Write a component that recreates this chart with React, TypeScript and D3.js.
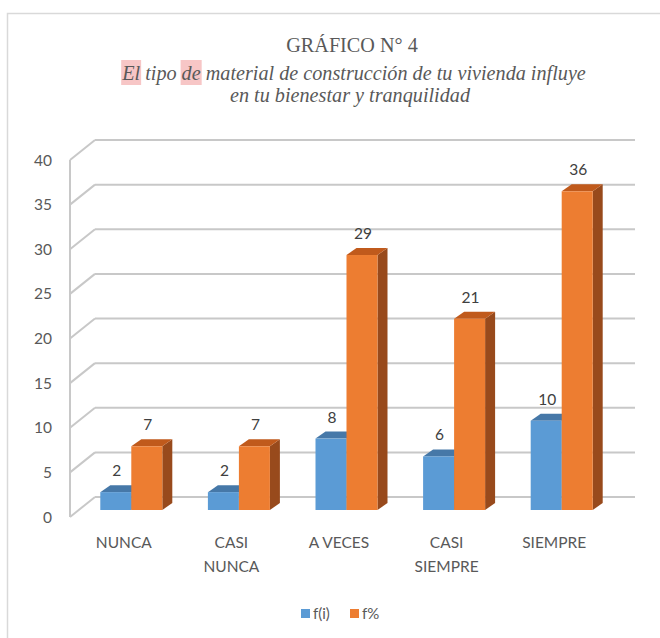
import React, { useEffect, useRef } from "react";
import * as d3 from "d3";

const categories = [["NUNCA"], ["CASI", "NUNCA"], ["A VECES"], ["CASI", "SIEMPRE"], ["SIEMPRE"]];
const seriesNames = ["f(i)", "f%"];
const fi = [2, 2, 8, 6, 10];
const fpct = [7.14, 7.14, 28.57, 21.43, 35.71];
const yTicks = [0, 5, 10, 15, 20, 25, 30, 35, 40];
const titleText = "GRÁFICO N° 4";
const subtitle1 = "El tipo de material de construcción de tu vivienda influye";
const subtitle2 = "en tu bienestar y tranquilidad";

const W = 660, H = 638;
const FRONT_X0 = 70, FRONT_X1 = 608, FRONT_Y0 = 517;
const DEPTH_DX = 25, DEPTH_DY = 20;
const BAR_SHIFT_X = 7.5, BAR_SHIFT_Y = 7;
const BAR_DX = 10, BAR_DY = 7;
const TXT = "#595959";
const FONT = "Lato, 'Noto Sans', sans-serif";

const colors = [
  { front: "#5b9bd5", top: "#4678a8", side: "#3f6f9a" },
  { front: "#ed7d31", top: "#c05a1c", side: "#984a1c" },
];

export default function App() {
  const ref = useRef<SVGSVGElement>(null);
  useEffect(() => {
    const svg = d3.select(ref.current);
    svg.selectAll("*").remove();
    svg.append("rect").attr("x", 0).attr("y", 0).attr("width", W).attr("height", H).attr("fill", "#fff");
    svg.append("rect").attr("x", 7.5).attr("y", 13.5).attr("width", W + 10).attr("height", H + 10)
      .attr("fill", "none").attr("stroke", "#d9d9d9").attr("stroke-width", 1.5);

    const y = d3.scaleLinear().domain([0, 40]).range([0, 357]);
    const x = d3.scaleBand().domain(d3.range(categories.length).map(String)).range([FRONT_X0, FRONT_X1]).paddingInner(0).paddingOuter(0);
    const bw = 31;

    // grid & axis
    const g = svg.append("g");
    yTicks.forEach((t) => {
      const yf = FRONT_Y0 - y(t);
      const yb = yf - DEPTH_DY;
      g.append("line").attr("x1", FRONT_X0).attr("y1", yf).attr("x2", FRONT_X0 + DEPTH_DX).attr("y2", yb)
        .attr("stroke", "#c8c8c8").attr("stroke-width", 2);
      g.append("line").attr("x1", FRONT_X0 + DEPTH_DX).attr("y1", yb).attr("x2", FRONT_X1 + DEPTH_DX + 2).attr("y2", yb)
        .attr("stroke", "#c8c8c8").attr("stroke-width", 2);
      g.append("text").attr("x", 52).attr("y", yf + 5.5).attr("text-anchor", "end")
        .attr("font-family", FONT).attr("font-size", 15.5).attr("fill", TXT).text(String(t));
    });
    g.append("line").attr("x1", FRONT_X0).attr("y1", FRONT_Y0).attr("x2", FRONT_X0).attr("y2", FRONT_Y0 - y(40))
      .attr("stroke", "#c8c8c8").attr("stroke-width", 2);

    // bars
    const series = [fi, fpct];
    const fmt = d3.format(".0f");
    categories.forEach((cat, i) => {
      const cx = (x(String(i)) as number) + x.bandwidth() / 2 + BAR_SHIFT_X;
      const baseY = FRONT_Y0 - BAR_SHIFT_Y;
      series.forEach((s, si) => {
        const x0 = cx - bw + si * bw;
        const x1 = x0 + bw;
        const top = baseY - y(s[i]);
        const c = colors[si];
        const bg = svg.append("g");
        bg.append("path").attr("d", `M${x1},${baseY}L${x1 + BAR_DX},${baseY - BAR_DY}L${x1 + BAR_DX},${top - BAR_DY}L${x1},${top}Z`).attr("fill", c.side);
        bg.append("path").attr("d", `M${x0},${top}L${x0 + BAR_DX},${top - BAR_DY}L${x1 + BAR_DX},${top - BAR_DY}L${x1},${top}Z`).attr("fill", c.top);
        bg.append("rect").attr("x", x0).attr("y", top).attr("width", bw).attr("height", baseY - top).attr("fill", c.front);
        bg.append("text").attr("x", (x0 + x1) / 2 + 1).attr("y", top - BAR_DY - 9).attr("text-anchor", "middle")
          .attr("font-family", FONT).attr("font-size", 15.5).attr("fill", "#404040").text(fmt(s[i]));
      });
      const lx = (x(String(i)) as number) + x.bandwidth() / 2;
      cat.forEach((line, li) => {
        svg.append("text").attr("x", lx).attr("y", 548 + li * 24).attr("text-anchor", "middle")
          .attr("font-family", FONT).attr("font-size", 15.5).attr("fill", TXT).text(line);
      });
    });

    // legend
    const leg = svg.append("g");
    const legItems = [{ x: 301, label: seriesNames[0] }, { x: 350, label: seriesNames[1] }];
    legItems.forEach((it, k) => {
      leg.append("rect").attr("x", it.x).attr("y", 609).attr("width", 9).attr("height", 9).attr("fill", colors[k].front);
      leg.append("text").attr("x", it.x + 12).attr("y", 619).attr("font-family", FONT).attr("font-size", 15)
        .attr("fill", TXT).text(it.label);
    });

    // title
    svg.append("text").attr("x", 352).attr("y", 52).attr("text-anchor", "middle")
      .attr("font-family", "'Liberation Serif', serif").attr("font-size", 20.2).attr("fill", TXT).text(titleText);
    const hlG = svg.append("g");
    const s1 = svg.append("text").attr("x", 354).attr("y", 80).attr("text-anchor", "middle")
      .attr("font-family", "'Liberation Serif', serif").attr("font-style", "italic").attr("font-size", 20.2)
      .attr("fill", TXT).text(subtitle1);
    svg.append("text").attr("x", 350).attr("y", 102).attr("text-anchor", "middle")
      .attr("font-family", "'Liberation Serif', serif").attr("font-style", "italic").attr("font-size", 20.2)
      .attr("fill", TXT).text(subtitle2);
    const node = s1.node() as SVGTextElement;
    const hl = (start: number, len: number) => {
      const a = node.getStartPositionOfChar(start).x;
      const e = node.getEndPositionOfChar(start + len - 1).x;
      hlG.append("rect").attr("x", a - 1).attr("y", 60).attr("width", e - a + 2).attr("height", 25).attr("fill", "#f7c6c6");
    };
    try {
      hl(0, 2);
      hl(subtitle1.indexOf(" de ") + 1, 2);
    } catch (e) {}
  }, []);
  return (
    <svg ref={ref} width={W} height={H} style={{ position: "absolute", left: 0, top: 0 }} />
  );
}
